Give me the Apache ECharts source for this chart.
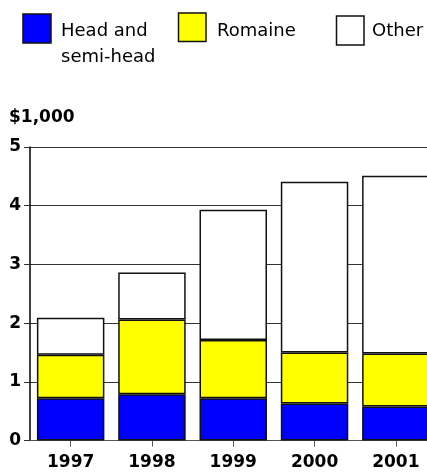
<!DOCTYPE html>
<html>
<head>
<meta charset="utf-8">
<script src="https://cdn.jsdelivr.net/npm/echarts@6/dist/echarts.min.js"></script>
<style>
html,body{margin:0;padding:0;background:#fff;}
#chart{width:427px;height:473px;}
</style>
</head>
<body>
<div id="chart"></div>
<script>
var categories = ['1997', '1998', '1999', '2000', '2001'];
var headSemiHead = [0.72, 0.79, 0.72, 0.63, 0.58];
var romaine = [0.74, 1.27, 0.99, 0.87, 0.90];
var other = [0.63, 0.80, 2.22, 2.91, 3.03];
var yTicks = [0, 1, 2, 3, 4, 5];
var unitLabel = '$1,000';

var FONT = 'DejaVu Sans';
var chart = echarts.init(document.getElementById('chart'), null, {renderer: 'canvas'});

function barSeries(name, data, color) {
  return {
    name: name,
    type: 'bar',
    stack: 'total',
    data: data,
    barCategoryGap: '17%',
    itemStyle: {color: color, borderColor: '#111', borderWidth: 1.5},
    emphasis: {disabled: true}
  };
}

var option = {
  animation: false,
  backgroundColor: '#fff',
  title: {
    text: unitLabel,
    left: 9, top: 109, padding: 0,
    textStyle: {fontFamily: FONT, fontWeight: 'bold', fontSize: 17, color: '#000'}
  },
  grid: {left: 30, top: 147, width: 406.5, height: 293.5, containLabel: false, outerBoundsMode: 'none'},
  xAxis: {
    type: 'category',
    data: categories,
    axisLine: {show: true, lineStyle: {color: '#555', width: 1}},
    axisTick: {show: true, alignWithLabel: true, length: 6, lineStyle: {color: '#555'}},
    axisLabel: {fontFamily: FONT, fontWeight: 'bold', fontSize: 17, color: '#000', margin: 14}
  },
  yAxis: {
    type: 'value',
    min: yTicks[0], max: yTicks[yTicks.length - 1], interval: 1,
    axisLine: {show: true, lineStyle: {color: '#000', width: 1.5}},
    axisTick: {show: true, length: 6, lineStyle: {color: '#333'}},
    splitLine: {show: true, lineStyle: {color: '#333', width: 1}},
    axisLabel: {fontFamily: FONT, fontWeight: 'bold', fontSize: 17, color: '#000', margin: 9}
  },
  series: [
    barSeries('Head and semi-head', headSemiHead, '#0000FF'),
    barSeries('Romaine', romaine, '#FFFF00'),
    barSeries('Other', other, '#FFFFFF')
  ],
  graphic: [
    {type: 'rect', shape: {x: 23, y: 14, width: 28, height: 29}, style: {fill: '#0000FF', stroke: '#111', lineWidth: 1.5}},
    {type: 'text', x: 61, y: 22, style: {text: 'Head and', fontFamily: FONT, fontSize: 18, fill: '#000'}},
    {type: 'text', x: 61, y: 48.5, style: {text: 'semi-head', fontFamily: FONT, fontSize: 18, fill: '#000'}},
    {type: 'rect', shape: {x: 178.5, y: 13, width: 27.5, height: 28.5}, style: {fill: '#FFFF00', stroke: '#111', lineWidth: 1.5}},
    {type: 'text', x: 217, y: 22, style: {text: 'Romaine', fontFamily: FONT, fontSize: 18, fill: '#000'}},
    {type: 'rect', shape: {x: 336.5, y: 16, width: 27.5, height: 29}, style: {fill: '#FFFFFF', stroke: '#111', lineWidth: 1.5}},
    {type: 'text', x: 372, y: 22, style: {text: 'Other', fontFamily: FONT, fontSize: 18, fill: '#000'}}
  ]
};
chart.setOption(option);
</script>
</body>
</html>
